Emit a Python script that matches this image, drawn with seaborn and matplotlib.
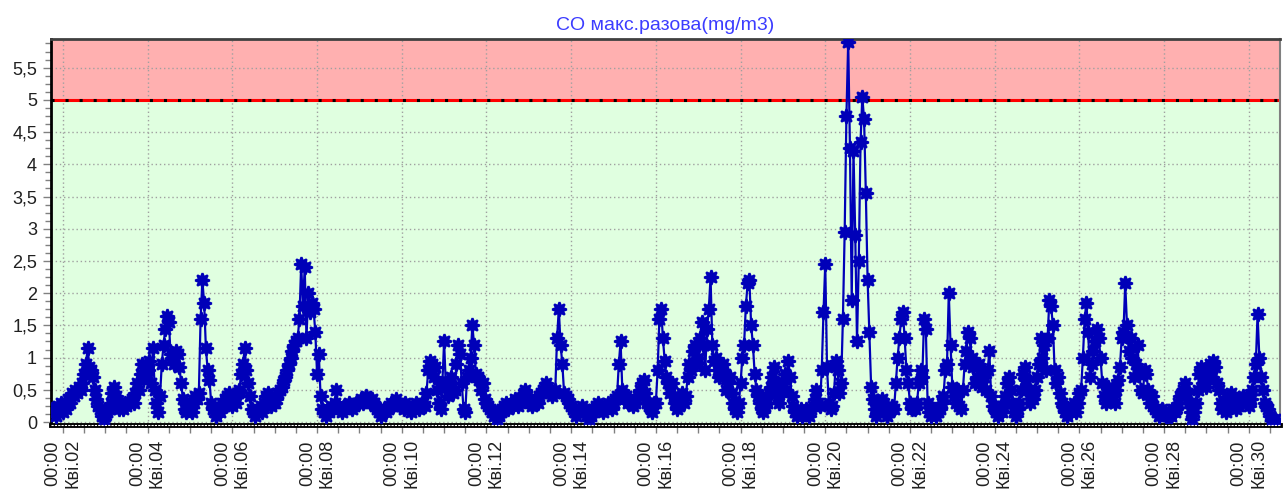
import numpy as np
import pandas as pd
import matplotlib
matplotlib.use('Agg')
import matplotlib.pyplot as plt
import matplotlib.dates as mdates
from matplotlib.ticker import MultipleLocator, FuncFormatter
import seaborn as sns

# CO, hourly values (mg/m3). Apr 1 starts at 18:00, Apr 30 ends at 15:00
apr01 = [0.2, 0.15, 0.1, 0.25, 0.2, 0.3]
apr02 = [0.15, 0.3, 0.2, 0.35, 0.3, 0.45, 0.4, 0.5, 0.45, 0.55, 0.5, 0.6, 0.75, 0.9, 1.15, 0.85, 0.8, 0.7, 0.5, 0.35, 0.25, 0.2, 0.1, 0.05]
apr03 = [0.1, 0.15, 0.2, 0.3, 0.45, 0.55, 0.4, 0.3, 0.2, 0.25, 0.2, 0.3, 0.25, 0.3, 0.3, 0.35, 0.3, 0.45, 0.6, 0.5, 0.75, 0.9, 0.7, 0.85]
apr04 = [0.8, 0.95, 0.6, 1.15, 0.5, 0.3, 0.15, 0.4, 0.9, 1.2, 1.45, 1.65, 1.55, 1.05, 1.0, 0.9, 1.1, 1.05, 0.85, 0.6, 0.35, 0.2, 0.15, 0.25]
apr05 = [0.2, 0.15, 0.3, 0.4, 0.35, 0.45, 1.6, 2.2, 1.85, 1.15, 0.8, 0.65, 0.3, 0.2, 0.15, 0.1, 0.2, 0.15, 0.3, 0.25, 0.35, 0.4, 0.45, 0.3]
apr06 = [0.25, 0.4, 0.3, 0.45, 0.5, 0.75, 0.9, 1.15, 0.8, 0.6, 0.4, 0.2, 0.15, 0.1, 0.15, 0.2, 0.25, 0.15, 0.3, 0.4, 0.45, 0.35, 0.25, 0.3]
apr07 = [0.3, 0.35, 0.45, 0.5, 0.55, 0.65, 0.7, 0.8, 0.9, 1.0, 1.1, 1.2, 1.25, 1.3, 1.6, 2.45, 1.8, 2.4, 1.3, 2.0, 1.7, 1.85, 1.75, 1.4]
apr08 = [0.75, 1.05, 0.4, 0.2, 0.15, 0.1, 0.2, 0.15, 0.25, 0.2, 0.3, 0.5, 0.25, 0.2, 0.15, 0.25, 0.2, 0.25, 0.3, 0.25, 0.2, 0.25, 0.3, 0.3]
apr09 = [0.3, 0.35, 0.3, 0.35, 0.4, 0.35, 0.3, 0.35, 0.3, 0.25, 0.2, 0.15, 0.1, 0.15, 0.2, 0.15, 0.2, 0.25, 0.3, 0.25, 0.3, 0.35, 0.3, 0.25]
apr10 = [0.25, 0.2, 0.3, 0.25, 0.2, 0.15, 0.2, 0.25, 0.3, 0.25, 0.2, 0.25, 0.3, 0.25, 0.45, 0.8, 0.95, 0.9, 0.7, 0.85, 0.5, 0.3, 0.2, 0.6]
apr11 = [1.25, 0.55, 0.4, 0.6, 0.7, 0.45, 0.5, 0.9, 1.2, 1.05, 0.6, 0.2, 0.15, 0.7, 0.8, 1.0, 1.5, 1.2, 0.75, 0.7, 0.65, 0.5, 0.6, 0.35]
apr12 = [0.3, 0.25, 0.2, 0.15, 0.1, 0.15, 0.05, 0.1, 0.15, 0.2, 0.25, 0.3, 0.2, 0.25, 0.3, 0.25, 0.35, 0.3, 0.25, 0.3, 0.35, 0.45, 0.5, 0.4]
apr13 = [0.35, 0.3, 0.25, 0.3, 0.35, 0.3, 0.4, 0.45, 0.5, 0.55, 0.6, 0.5, 0.45, 0.4, 0.45, 0.5, 1.3, 1.75, 1.2, 0.9, 0.45, 0.4, 0.35, 0.3]
apr14 = [0.25, 0.2, 0.15, 0.1, 0.15, 0.2, 0.25, 0.2, 0.15, 0.1, 0.05, 0.1, 0.15, 0.2, 0.25, 0.3, 0.25, 0.2, 0.15, 0.2, 0.25, 0.3, 0.25, 0.2]
apr15 = [0.3, 0.35, 0.4, 0.9, 1.25, 0.5, 0.35, 0.4, 0.3, 0.35, 0.3, 0.25, 0.3, 0.35, 0.4, 0.5, 0.6, 0.65, 0.45, 0.3, 0.25, 0.2, 0.15, 0.3]
apr16 = [0.3, 0.8, 1.6, 1.75, 1.3, 0.95, 0.7, 0.6, 0.45, 0.6, 0.4, 0.3, 0.2, 0.25, 0.35, 0.45, 0.3, 0.4, 0.7, 0.9, 0.8, 1.1, 1.2, 0.9]
apr17 = [1.0, 1.3, 1.55, 1.2, 0.8, 1.45, 1.75, 2.25, 1.2, 0.95, 1.0, 0.8, 0.7, 0.85, 0.9, 0.75, 0.5, 0.6, 0.7, 0.45, 0.3, 0.2, 0.15, 0.3]
apr18 = [0.6, 1.0, 1.2, 1.8, 2.15, 2.2, 1.5, 1.2, 0.75, 0.5, 0.4, 0.3, 0.2, 0.15, 0.25, 0.3, 0.45, 0.55, 0.7, 0.85, 0.6, 0.4, 0.3, 0.5]
apr19 = [0.6, 0.75, 0.5, 0.95, 0.7, 0.4, 0.25, 0.15, 0.1, 0.15, 0.2, 0.1, 0.15, 0.2, 0.15, 0.1, 0.2, 0.25, 0.35, 0.5, 0.3, 0.25, 0.8, 1.7]
apr20 = [2.45, 0.85, 0.3, 0.2, 0.25, 0.45, 0.95, 0.8, 0.45, 0.6, 1.6, 2.95, 4.75, 5.9, 4.25, 1.9, 4.2, 2.9, 1.25, 2.5, 4.35, 5.05, 4.7, 3.55]
apr21 = [2.2, 1.4, 0.55, 0.35, 0.2, 0.1, 0.15, 0.3, 0.35, 0.3, 0.2, 0.1, 0.15, 0.2, 0.25, 0.2, 0.6, 1.0, 1.3, 1.6, 1.7, 1.3, 0.8, 0.6]
apr22 = [0.3, 0.2, 0.25, 0.2, 0.3, 0.6, 0.8, 0.7, 1.6, 1.45, 0.3, 0.15, 0.1, 0.15, 0.2, 0.1, 0.15, 0.2, 0.3, 0.4, 0.8, 0.9, 2.0, 1.2]
apr23 = [0.55, 0.4, 0.3, 0.5, 0.25, 0.2, 0.5, 0.9, 1.1, 1.4, 1.3, 1.0, 0.85, 0.6, 0.7, 0.9, 0.75, 0.55, 0.7, 0.5, 0.8, 1.1, 0.4, 0.25]
apr24 = [0.2, 0.15, 0.1, 0.2, 0.15, 0.25, 0.4, 0.6, 0.7, 0.5, 0.3, 0.15, 0.1, 0.2, 0.3, 0.5, 0.75, 0.85, 0.65, 0.5, 0.3, 0.4, 0.35, 0.5]
apr25 = [0.7, 0.9, 1.3, 1.0, 1.2, 0.8, 1.3, 1.9, 1.8, 1.5, 0.8, 0.6, 0.7, 0.45, 0.3, 0.25, 0.15, 0.1, 0.2, 0.15, 0.2, 0.3, 0.15, 0.3]
apr26 = [0.45, 0.5, 1.0, 1.6, 1.85, 1.4, 0.7, 0.9, 1.1, 1.25, 1.45, 1.3, 1.0, 0.6, 0.4, 0.3, 0.55, 0.35, 0.5, 0.4, 0.3, 0.5, 0.65, 0.85]
apr27 = [1.3, 1.4, 2.15, 1.5, 1.1, 1.3, 1.0, 0.7, 0.9, 1.2, 0.75, 0.5, 0.45, 0.8, 0.75, 0.5, 0.3, 0.4, 0.25, 0.2, 0.15, 0.1, 0.15, 0.2]
apr28 = [0.15, 0.1, 0.1, 0.15, 0.1, 0.2, 0.15, 0.2, 0.3, 0.4, 0.45, 0.5, 0.6, 0.45, 0.3, 0.15, 0.05, 0.15, 0.3, 0.5, 0.75, 0.85, 0.6, 0.8]
apr29 = [0.55, 0.8, 0.9, 0.7, 0.95, 0.85, 0.6, 0.5, 0.3, 0.2, 0.25, 0.15, 0.3, 0.4, 0.45, 0.35, 0.3, 0.2, 0.25, 0.35, 0.3, 0.4, 0.35, 0.3]
apr30 = [0.25, 0.35, 0.5, 0.7, 0.9, 1.68, 1.0, 0.7, 0.5, 0.3, 0.25, 0.2, 0.1, 0.05, 0.02, 0.05]

TITLE = 'CO макс.разова(mg/m3)'
MONTH = 'Кві'
LIMIT = 5.0

days = [apr01, apr02, apr03, apr04, apr05, apr06, apr07, apr08, apr09, apr10,
        apr11, apr12, apr13, apr14, apr15, apr16, apr17, apr18, apr19, apr20,
        apr21, apr22, apr23, apr24, apr25, apr26, apr27, apr28, apr29, apr30]
values = np.concatenate(days)
times = pd.date_range('2021-04-01 18:00', periods=len(values), freq='h')
df = pd.DataFrame({'time': times, 'co': values})

sns.set_style('ticks')
plt.rcParams['font.family'] = ['Liberation Sans', 'DejaVu Sans']

fig = plt.figure(figsize=(12.87, 4.9), dpi=100)
ax = fig.add_axes([0.0396, 0.1335, 0.9549, 0.7863])

ymin, ymax = -0.04, 5.94
ax.set_ylim(ymin, ymax)
ax.set_xlim(pd.Timestamp('2021-04-01 17:12'), pd.Timestamp('2021-04-30 17:40'))

# zones: allowed / over the limit
ax.axhspan(ymin, LIMIT, color='#E0FFE0', zorder=0, lw=0)
ax.axhspan(LIMIT, ymax, color='#FFB0B0', zorder=0, lw=0)
ax.axhline(LIMIT, color='#FF0000', lw=2.2, zorder=2)
ax.axhline(LIMIT, color='black', lw=2.2, ls=(0, (1, 3.6)), zorder=2.1)

sns.lineplot(data=df, x='time', y='co', ax=ax, errorbar=None,
             color='#0000B8', lw=1.6, marker=(8, 1, 0), markersize=10.5,
             markeredgecolor='#0000B8', markeredgewidth=1.6, zorder=3)

ax.set_title(TITLE, color='#3C3CFF', fontsize=14, pad=7)
ax.set_xlabel('')
ax.set_ylabel('')

# axes ticks
ax.xaxis.set_major_locator(mdates.DayLocator(bymonthday=range(2, 31, 2)))
ax.xaxis.set_minor_locator(mdates.HourLocator(byhour=[0, 12]))

def day_label(v, pos):
    d = mdates.num2date(v)
    return d.strftime('%H:%M') + '\n' + MONTH + '.' + d.strftime('%d')

ax.xaxis.set_major_formatter(FuncFormatter(day_label))
ax.yaxis.set_major_locator(MultipleLocator(0.5))
ax.yaxis.set_minor_locator(MultipleLocator(0.125))
ax.yaxis.set_major_formatter(FuncFormatter(lambda v, p: f'{v:g}'.replace('.', ',')))

ax.tick_params(axis='both', which='major', length=6, width=1, color='#808080',
               labelsize=13, labelcolor='#202020', pad=4)
ax.tick_params(axis='x', which='minor', length=6, width=1, color='#808080')
ax.tick_params(axis='y', which='minor', length=4, width=1, color='#808080')
ax.tick_params(axis='x', labelrotation=90)

ax.grid(which='major', color='#A0A0A0', linestyle=(0, (1, 2)), linewidth=1)
ax.set_axisbelow(True)

ax.spines['left'].set_color('black')
ax.spines['left'].set_linewidth(2)
ax.spines['top'].set_color('#404040')
ax.spines['top'].set_linewidth(2)
ax.spines['right'].set_color('#808080')
ax.spines['right'].set_linewidth(1.5)
ax.spines['bottom'].set_color('black')
ax.spines['bottom'].set_linewidth(3.5)
ax.axhline(ymin, color='white', lw=0.8, ls=(0, (2, 1)), clip_on=False, zorder=5)

fig.savefig('out.png', dpi=100)
